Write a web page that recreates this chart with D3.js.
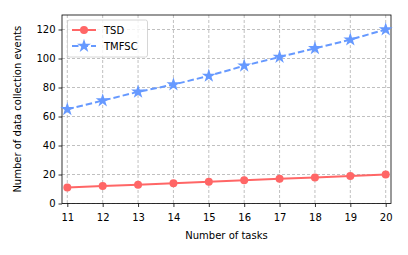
<!DOCTYPE html>
<html><head><meta charset="utf-8">
<script src="https://cdn.jsdelivr.net/npm/d3@7"></script>
<style>body{margin:0;background:#fff}svg{display:block}text{font-family:"DejaVu Sans",sans-serif}</style>
</head><body>
<svg id="c" width="408" height="255"></svg>
<script>
const tasks = [11,12,13,14,15,16,17,18,19,20];
const tsd = [11,12,13,14,15,16,17,18,19,20];
const tmfsc = [65,71,77,82,88,95,101,107,113,120];
const yTicks = [0,20,40,60,80,100,120];
const seriesNames = ["TSD","TMFSC"];

const svg = d3.select("#c");
const L=62, R=391, T=15, B=203.5;
const x = d3.scaleLinear().domain([10.85,20.15]).range([L,R]);
const y = d3.scaleLinear().domain([0,130]).range([B,T]);

// grid
const g = svg.append("g");
g.selectAll(".gx").data(tasks).join("line")
  .attr("x1",d=>x(d)).attr("x2",d=>x(d)).attr("y1",T).attr("y2",B)
  .attr("stroke","#b0b0b0").attr("stroke-width",0.8).attr("stroke-dasharray","3,2");
g.selectAll(".gy").data(yTicks).join("line")
  .attr("x1",L).attr("x2",R).attr("y1",d=>y(d)).attr("y2",d=>y(d))
  .attr("stroke","#b0b0b0").attr("stroke-width",0.8).attr("stroke-dasharray","3,2");

// axes
const xa = svg.append("g").attr("transform",`translate(0,${B})`)
  .call(d3.axisBottom(x).tickValues(tasks).tickFormat(d3.format("d")).tickSize(3.5).tickSizeOuter(0));
const ya = svg.append("g").attr("transform",`translate(${L},0)`)
  .call(d3.axisLeft(y).tickValues(yTicks).tickSize(3.5).tickSizeOuter(0));
[xa,ya].forEach(a=>{a.select(".domain").remove();
  a.selectAll("text").attr("font-size",10).attr("fill","#000").attr("font-family","DejaVu Sans");
  a.selectAll("line").attr("stroke","#000").attr("stroke-width",0.8);});
xa.selectAll("text").attr("dy","1.05em");

// frame
svg.append("rect").attr("x",L).attr("y",T).attr("width",R-L).attr("height",B-T)
  .attr("fill","none").attr("stroke","#000").attr("stroke-width",0.8);

const line = d3.line().x((d,i)=>x(tasks[i])).y(d=>y(d));
const c1="#ff6666", c2="#6699ff";
const dash="6.5,3";
svg.append("path").datum(tsd).attr("d",line).attr("fill","none").attr("stroke",c1).attr("stroke-width",2);
svg.selectAll(".p1").data(tsd).join("circle").attr("cx",(d,i)=>x(tasks[i])).attr("cy",d=>y(d)).attr("r",4).attr("fill",c1);
svg.append("path").datum(tmfsc).attr("d",line).attr("fill","none").attr("stroke",c2).attr("stroke-width",2).attr("stroke-dasharray",dash);
const star = d3.symbol().type(d3.symbolStar).size(60);
svg.selectAll(".p2").data(tmfsc).join("path").attr("d",star)
  .attr("transform",(d,i)=>`translate(${x(tasks[i])},${y(d)})`).attr("fill",c2);

// labels
svg.append("text").attr("x",(L+R)/2).attr("y",238.5).attr("text-anchor","middle").attr("font-size",10).text("Number of tasks");
svg.append("text").attr("transform",`translate(21,${(T+B)/2}) rotate(-90)`).attr("text-anchor","middle").attr("font-size",10).text("Number of data collection events");

// legend
const lg = svg.append("g");
lg.append("rect").attr("x",67.5).attr("y",20).attr("width",80).attr("height",37).attr("rx",2)
  .attr("fill","#fff").attr("fill-opacity",0.8).attr("stroke","#ccc").attr("stroke-width",0.8);
const ly=[30,46];
[c1,c2].forEach((c,i)=>{
  lg.append("line").attr("x1",72).attr("x2",96).attr("y1",ly[i]).attr("y2",ly[i]).attr("stroke",c).attr("stroke-width",2)
    .attr("stroke-dasharray",i?dash:null);
  if(i===0) lg.append("circle").attr("cx",84).attr("cy",ly[i]).attr("r",4).attr("fill",c);
  else lg.append("path").attr("d",star).attr("transform",`translate(84,${ly[i]})`).attr("fill",c);
  lg.append("text").attr("x",104).attr("y",ly[i]+3.6).attr("font-size",10).text(seriesNames[i]);
});
</script>
</body></html>
